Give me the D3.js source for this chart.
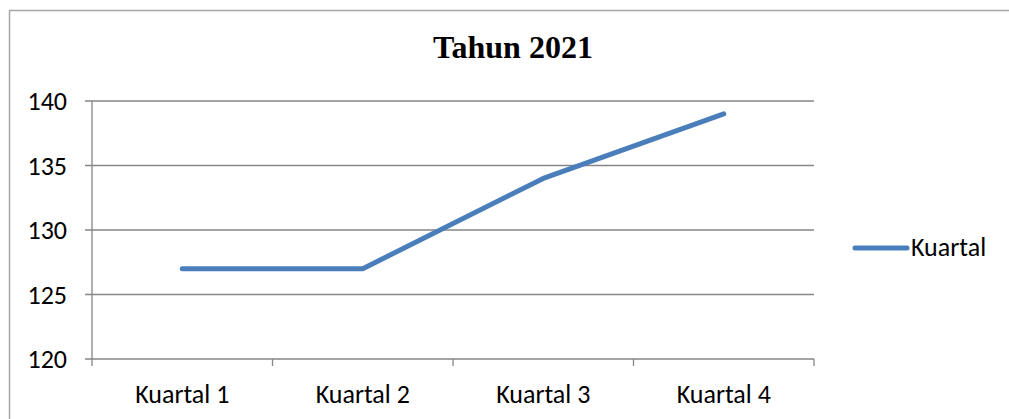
<!DOCTYPE html>
<html><head><meta charset="utf-8">
<script src="https://cdn.jsdelivr.net/npm/d3@7"></script>
<style>body{margin:0;background:#fff}svg{display:block}</style>
</head><body>
<svg id="c" width="1009" height="419"></svg>
<script>
const categories = ["Kuartal 1", "Kuartal 2", "Kuartal 3", "Kuartal 4"];
const values = [127, 127, 134, 139];
const yTicks = [120, 125, 130, 135, 140];
const seriesName = "Kuartal";
const title = "Tahun 2021";

(function(){
const svg = d3.select("#c");
const font = "Carlito, Calibri, 'Open Sans', sans-serif";
const fs = 26;
// outer border
svg.append("rect").attr("x",9.5).attr("y",10.5).attr("width",1010).attr("height",420)
  .attr("fill","none").attr("stroke","#a6a6a6").attr("stroke-width",1.5);

const pL=92, pR=814, pT=101, pB=359;
const x = d3.scaleBand().domain(categories).range([pL,pR]);
const y = d3.scaleLinear().domain([120,140]).range([pB,pT]);

// gridlines
svg.append("g").selectAll("line").data(yTicks).join("line")
  .attr("x1",pL-7).attr("x2",pR).attr("y1",d=>y(d)).attr("y2",d=>y(d))
  .attr("stroke","#868686").attr("stroke-width",1.3);

// y axis line
svg.append("line").attr("x1",pL).attr("x2",pL).attr("y1",pT).attr("y2",pB+7)
  .attr("stroke","#868686").attr("stroke-width",1.3);
// x ticks at boundaries
const bounds = categories.map(c=>x(c)).concat([pR]);
svg.append("g").selectAll("line").data(bounds.slice(1)).join("line")
  .attr("x1",d=>d).attr("x2",d=>d).attr("y1",pB).attr("y2",pB+7)
  .attr("stroke","#868686").attr("stroke-width",1.3);

// y labels
svg.append("g").selectAll("text").data(yTicks).join("text")
  .attr("x",67).attr("y",d=>y(d)+9).attr("text-anchor","end")
  .attr("font-family",font).attr("font-size",fs).attr("fill","#000").text(d=>d);

// x labels
svg.append("g").selectAll("text").data(categories).join("text")
  .attr("x",d=>x(d)+x.bandwidth()/2).attr("y",403).attr("text-anchor","middle")
  .attr("font-family",font).attr("font-size",fs).attr("fill","#000").text(d=>d);

// line
const line = d3.line().x((d,i)=>x(categories[i])+x.bandwidth()/2).y(d=>y(d));
svg.append("path").datum(values).attr("d",line).attr("fill","none")
  .attr("stroke","#4a7ebb").attr("stroke-width",5).attr("stroke-linecap","round").attr("stroke-linejoin","round");

// title
svg.append("text").attr("x",513).attr("y",58).attr("text-anchor","middle")
  .attr("font-family","'Liberation Serif','Times New Roman',serif").attr("font-weight","bold")
  .attr("font-size",32).text(title);

// legend
svg.append("line").attr("x1",855).attr("x2",907).attr("y1",248).attr("y2",248)
  .attr("stroke","#4a7ebb").attr("stroke-width",5).attr("stroke-linecap","round");
svg.append("text").attr("x",911).attr("y",256).attr("font-family",font).attr("font-size",fs).text(seriesName);
})();
</script>
</body></html>
